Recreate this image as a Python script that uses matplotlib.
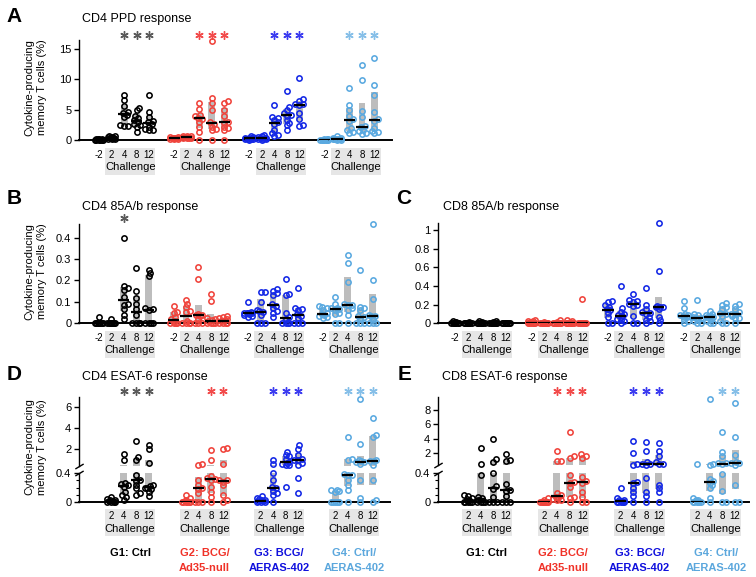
import numpy as np
import matplotlib
matplotlib.use('Agg')
import matplotlib.pyplot as plt
from matplotlib.transforms import blended_transform_factory
from matplotlib.patches import Rectangle

plt.rcParams['font.family'] = ['Liberation Sans', 'DejaVu Sans']

# ---------------- data ----------------
weeks_all = ['-2', '2', '4', '8', '12']
weeks_esat = ['2', '4', '8', '12']
group_labels = ['G1: Ctrl', 'G2: BCG/\nAd35-null', 'G3: BCG/\nAERAS-402', 'G4: Ctrl/\nAERAS-402']
group_colors = ['#000000', '#f0443c', '#1428e6', '#5aa9e0']
label_colors = ['#000000', '#f03228', '#1010dd', '#5ba7dd']
star_colors = ['#5a5a5a', '#f24a4a', '#3b3bf0', '#86bfe8']

# Panel A: CD4 PPD (weeks -2,2,4,8,12)
A_G1 = [[0, 0, 0.1, 0, 0.2, 0, 0.1, 0, 0.05, 0.1],
        [0.2, 0.4, 0.5, 0.6, 0.3, 0.1, 0.5, 0.4, 0.2, 0.6],
        [7.4, 6.6, 5.6, 4.7, 4.5, 4.2, 3.8, 2.4, 2.3, 2.3],
        [5.3, 4.9, 4.0, 3.6, 3.3, 3.0, 2.7, 2.4, 2.2, 1.4],
        [7.4, 4.6, 3.8, 3.2, 2.9, 2.7, 2.2, 1.8, 1.7, 1.6]]
A_G2 = [[0.3, 0.4, 0.2, 0.5, 0.3, 0.4, 0.1, 0.3, 0.5, 0.2],
        [0.5, 0.6, 0.4, 0.3, 0.7, 0.5, 0.4, 0.6, 0.5, 0.3],
        [6.1, 5.1, 4.2, 3.9, 3.7, 3.5, 3.0, 2.2, 1.4, 0.0],
        [16.3, 7.0, 6.1, 5.0, 2.9, 2.7, 2.2, 1.8, 1.6, 0.0],
        [6.4, 6.1, 5.0, 4.0, 3.0, 2.8, 2.2, 1.9, 1.6, 0.0]]
A_G3 = [[0.5, 0.3, 0.2, 0.1, 0.4, 0.2, 0.3, 0.1, 0.0, 0.6],
        [0.8, 0.5, 0.3, 0.2, 0.1, 0.4, 0.2, 0.0, 0.3, 0.6],
        [5.8, 3.8, 3.6, 3.3, 2.9, 2.6, 1.6, 1.2, 0.9, 0.7],
        [8.1, 5.4, 5.0, 4.4, 4.1, 4.0, 3.3, 2.8, 2.4, 1.6],
        [10.3, 6.7, 6.4, 6.0, 5.9, 5.8, 4.5, 3.4, 2.4, 2.3]]
A_G4 = [[0.05, 0.0, 0.1, 0.0, 0.05, 0.1, 0.0, 0.05, 0.0, 0.1],
        [0.1, 0.3, 0.6, 0.2, 0.0, 0.1, 0.4, 0.2, 0.0, 0.1],
        [8.5, 5.8, 5.0, 4.0, 3.4, 3.2, 1.9, 1.6, 1.4, 1.2],
        [12.4, 9.9, 4.8, 3.8, 2.3, 2.1, 1.7, 1.5, 1.2, 1.0],
        [13.5, 9.0, 7.5, 4.7, 3.4, 3.2, 2.0, 1.5, 1.3, 1.1]]
A_stars = [['4', '8', '12'], ['4', '8', '12'], ['4', '8', '12'], ['4', '8', '12']]

# Panel B: CD4 85A/b
B_G1 = [[0.028, 0, 0, 0, 0, 0, 0, 0, 0, 0],
        [0.022, 0, 0, 0, 0, 0, 0, 0, 0, 0],
        [0.40, 0.175, 0.165, 0.155, 0.125, 0.09, 0.085, 0.065, 0.04, 0.02],
        [0.26, 0.15, 0.12, 0.09, 0.065, 0.04, 0, 0, 0, 0],
        [0.25, 0.235, 0.22, 0.07, 0.065, 0.06, 0, 0, 0, 0]]
B_G2 = [[0.083, 0.055, 0.05, 0.03, 0.02, 0.012, 0, 0, 0, 0],
        [0.11, 0.09, 0.075, 0.058, 0.055, 0.012, 0, 0, 0, 0],
        [0.265, 0.207, 0.045, 0.04, 0.038, 0.035, 0.02, 0, 0, 0],
        [0.135, 0.105, 0.025, 0.02, 0.015, 0.01, 0, 0, 0, 0],
        [0.035, 0.03, 0.025, 0.02, 0.015, 0.01, 0, 0, 0, 0]]
B_G3 = [[0.10, 0.055, 0.05, 0.048, 0.047, 0.046, 0.045, 0.04, 0.035, 0.03],
        [0.148, 0.145, 0.10, 0.063, 0.058, 0.052, 0.04, 0, 0, 0],
        [0.158, 0.15, 0.14, 0.13, 0.09, 0.083, 0.07, 0.058, 0.05, 0.03],
        [0.207, 0.135, 0.13, 0.047, 0.03, 0.022, 0, 0, 0, 0],
        [0.163, 0.073, 0.068, 0.06, 0.042, 0.036, 0.025, 0, 0, 0]]
B_G4 = [[0.08, 0.075, 0.07, 0.06, 0.048, 0.042, 0.04, 0.035, 0.03, 0.025],
        [0.125, 0.09, 0.073, 0.07, 0.066, 0.063, 0.05, 0.045, 0, 0],
        [0.32, 0.28, 0.195, 0.09, 0.087, 0.085, 0.07, 0.06, 0.04, 0],
        [0.25, 0.078, 0.07, 0.06, 0.032, 0.028, 0.02, 0, 0, 0],
        [0.465, 0.2, 0.115, 0.04, 0.035, 0.032, 0.02, 0, 0, 0]]
B_stars = [['4'], [], [], []]

# Panel C: CD8 85A/b
C_G1 = [[0.02, 0.01, 0.01, 0, 0, 0, 0, 0, 0, 0],
        [0.01, 0.005, 0, 0, 0, 0, 0, 0, 0, 0],
        [0.02, 0.01, 0.005, 0, 0, 0, 0, 0, 0, 0],
        [0.025, 0.01, 0, 0, 0, 0, 0, 0, 0, 0],
        [0.005, 0, 0, 0, 0, 0, 0, 0, 0, 0]]
C_G2 = [[0.04, 0.03, 0.02, 0.01, 0, 0, 0, 0, 0, 0],
        [0.01, 0, 0, 0, 0, 0, 0, 0, 0, 0],
        [0.035, 0.01, 0, 0, 0, 0, 0, 0, 0, 0],
        [0.035, 0.02, 0.01, 0, 0, 0, 0, 0, 0, 0],
        [0.26, 0, 0, 0, 0, 0, 0, 0, 0, 0]]
C_G3 = [[0.235, 0.225, 0.2, 0.18, 0.15, 0.14, 0.11, 0.07, 0, 0],
        [0.40, 0.16, 0.125, 0.1, 0.085, 0.075, 0.05, 0.04, 0.02, 0],
        [0.31, 0.25, 0.24, 0.23, 0.21, 0.2, 0.19, 0.08, 0, 0],
        [0.375, 0.2, 0.15, 0.125, 0.115, 0.105, 0.07, 0.04, 0.02, 0],
        [1.07, 0.56, 0.19, 0.18, 0.178, 0.172, 0.15, 0.07, 0.035, 0]]
C_G4 = [[0.24, 0.16, 0.1, 0.09, 0.085, 0.08, 0.07, 0.04, 0.02, 0],
        [0.245, 0.1, 0.09, 0.07, 0.058, 0.052, 0.04, 0.03, 0, 0],
        [0.13, 0.1, 0.09, 0.08, 0.072, 0.068, 0.05, 0.03, 0, 0],
        [0.215, 0.2, 0.17, 0.15, 0.11, 0.1, 0.08, 0.03, 0, 0],
        [0.21, 0.19, 0.15, 0.12, 0.105, 0.1, 0.08, 0.06, 0.055, 0]]
C_stars = [[], [], [], []]

# Panel D: CD4 ESAT-6 (weeks 2,4,8,12)
D_G1 = [[0.07, 0.04, 0.03, 0.02, 0.01, 0.01, 0, 0, 0, 0],
        [1.5, 0.95, 0.27, 0.25, 0.24, 0.21, 0.14, 0.1, 0.07, 0.03],
        [2.75, 1.25, 0.95, 0.37, 0.31, 0.29, 0.24, 0.19, 0.12, 0.09],
        [2.4, 2.0, 0.65, 0.23, 0.22, 0.2, 0.19, 0.18, 0.14, 0.08]]
D_G2 = [[0.1, 0.05, 0.02, 0.01, 0, 0, 0, 0, 0, 0],
        [0.55, 0.52, 0.3, 0.24, 0.2, 0.18, 0.12, 0, 0, 0],
        [1.9, 0.95, 0.36, 0.33, 0.32, 0.31, 0.21, 0.14, 0.07, 0],
        [2.15, 2.0, 0.55, 0.31, 0.3, 0.28, 0.23, 0.1, 0.03, 0]]
D_G3 = [[0.08, 0.05, 0.04, 0.03, 0.02, 0.01, 0.01, 0, 0, 0],
        [1.0, 0.6, 0.4, 0.3, 0.21, 0.19, 0.15, 0.12, 0.1, 0],
        [1.75, 1.45, 1.3, 1.1, 0.8, 0.7, 0.6, 0.5, 0.45, 0.21],
        [2.35, 2.05, 1.45, 1.1, 1.0, 0.95, 0.7, 0.5, 0.33, 0.12]]
D_G4 = [[0.17, 0.16, 0.15, 0.14, 0, 0, 0, 0, 0, 0],
        [3.2, 1.1, 1.0, 0.39, 0.38, 0.37, 0.3, 0.23, 0.17, 0],
        [6.8, 2.5, 1.0, 0.85, 0.8, 0.78, 0.6, 0.3, 0.05, 0],
        [5.0, 3.3, 3.2, 1.0, 0.88, 0.82, 0.5, 0.31, 0.03, 0]]
D_stars = [['4', '8', '12'], ['8', '12'], ['4', '8', '12'], ['4', '8', '12']]

# Panel E: CD8 ESAT-6
E_G1 = [[0.09, 0.085, 0.05, 0.04, 0.02, 0, 0, 0, 0, 0],
        [2.7, 0.5, 0.37, 0.07, 0.05, 0.02, 0, 0, 0, 0],
        [3.9, 1.2, 0.85, 0.4, 0.22, 0.18, 0.07, 0, 0, 0],
        [1.9, 1.1, 1.0, 0.25, 0.17, 0.15, 0.08, 0, 0, 0]]
E_G2 = [[0.05, 0.02, 0, 0, 0, 0, 0, 0, 0, 0],
        [2.3, 1.0, 0.95, 0.12, 0.09, 0.07, 0.05, 0.04, 0.03, 0.02],
        [4.9, 1.6, 1.3, 0.38, 0.28, 0.26, 0.21, 0.07, 0.05, 0],
        [1.85, 1.6, 1.4, 0.35, 0.29, 0.27, 0.14, 0.07, 0, 0]]
E_G3 = [[0.19, 0.05, 0.03, 0.02, 0.01, 0, 0, 0, 0, 0],
        [3.7, 2.0, 0.6, 0.42, 0.28, 0.26, 0.2, 0.14, 0.08, 0],
        [3.6, 2.35, 0.85, 0.6, 0.5, 0.45, 0.34, 0.13, 0.08, 0],
        [3.45, 2.35, 1.6, 0.85, 0.56, 0.54, 0.24, 0.19, 0.13, 0]]
E_G4 = [[0.5, 0.05, 0.03, 0.02, 0, 0, 0, 0, 0, 0],
        [9.5, 0.55, 0.45, 0.32, 0.29, 0.27, 0.23, 0.19, 0.05, 0],
        [4.95, 2.2, 1.6, 0.7, 0.62, 0.58, 0.39, 0.15, 0, 0],
        [8.9, 4.3, 1.8, 0.75, 0.66, 0.62, 0.45, 0.23, 0, 0]]
E_stars = [[], ['4', '8', '12'], ['4', '8', '12'], ['8', '12']]

# ---------------- figure ----------------
W, H = 756, 577
fig = plt.figure(figsize=(W / 100, H / 100), dpi=100)

BAR_C = '#bdbdbd'
BOX_C = '#e6e6e6'


def add_ax(l, t, r, b):
    return fig.add_axes([l / W, 1 - b / H, (r - l) / W, (b - t) / H])


def make_break(up0, up_k, lo_k=71.0, brk=0.4):
    def fwd(v):
        v = np.asarray(v, float)
        return np.where(v <= brk, v * lo_k, up0 + (v - brk) * up_k)

    def inv(u):
        u = np.asarray(u, float)
        return np.where(u <= brk * lo_k, u / lo_k,
                        np.where(u < up0, brk, brk + (u - up0) / up_k))
    return fwd, inv


def swarm(ypx, D=3.4, step=1.3, maxoff=4.6):
    n = len(ypx)
    offs = np.zeros(n)
    cands = [0.0]
    k = 1
    while k * step <= maxoff:
        cands += [k * step, -k * step]
        k += 1
    placed = []
    for i in np.argsort(ypx):
        best, bestd, bd = None, -1, 0.0
        for c in cands:
            if not placed:
                best = c
                break
            d = min(np.hypot(c - ox, ypx[i] - oy) for ox, oy in placed)
            if d >= D:
                best = c
                break
            if d > bestd:
                bestd, bd = d, c
        if best is None:
            best = bd
        placed.append((best, ypx[i]))
        offs[i] = best
    return offs


def below(ax, x, dy_px, text, h_px, **kw):
    tr = blended_transform_factory(ax.transData, ax.transAxes)
    ax.text(x, -dy_px / h_px, text, transform=tr, ha='center', va='center',
            clip_on=False, **kw)


def draw_panel(ax, groups, weeks, stars, xlim, ylim, yticks, yticklabels,
               title, letter, letter_xy, title_xy, ylabel=False, broken=None):
    h_px = ax.bbox.height
    ax.set_xlim(*xlim)
    if broken is not None:
        fwd, inv = make_break(*broken)
        ax.set_yscale('function', functions=(fwd, inv))
    ax.set_ylim(*ylim)
    ppu = ax.bbox.width / (xlim[1] - xlim[0])
    tr = blended_transform_factory(ax.transData, ax.transAxes)

    for g, gdata in enumerate(groups):
        col = group_colors[g]
        for wk, vals in zip(weeks, gdata):
            x0 = 6 * g + weeks_all.index(wk)
            v = np.array(vals, float)
            med = np.median(v)
            q1, q3 = np.percentile(v, [25, 75], method='weibull')
            if broken is None:
                ax.bar(x0, q3 - q1, bottom=q1, width=0.55, color=BAR_C, lw=0, zorder=1)
            else:
                if q1 < 0.4:
                    top = min(q3, 0.4)
                    ax.bar(x0, top - q1, bottom=q1, width=0.55, color=BAR_C, lw=0, zorder=1)
                if q3 > 0.4:
                    lo = max(q1, 0.4001)
                    ax.bar(x0, q3 - lo, bottom=lo, width=0.55, color=BAR_C, lw=0, zorder=1)
            ypx = ax.transData.transform(np.column_stack([np.full(len(v), x0), v]))[:, 1]
            offs = swarm(ypx)
            ax.plot(x0 + offs / ppu, v, ls='none', marker='o', ms=3.8, mfc='none',
                    mec=col, mew=1.15, clip_on=False, zorder=3)
            ax.plot([x0 - 0.45, x0 + 0.45], [med, med], color='k', lw=1.6,
                    solid_capstyle='butt', zorder=4)
        for wk in stars[g]:
            x0 = 6 * g + weeks_all.index(wk)
            ax.plot([x0], [1 + 5.5 / h_px], transform=tr, marker=(6, 2, 0), ms=6.0,
                    mew=1.0, color=star_colors[g], clip_on=False, ls='none')
        ax.add_patch(Rectangle((6 * g + 0.5, -34.5 / h_px), 4.0, 27.0 / h_px,
                               transform=tr, facecolor=BOX_C, edgecolor='none',
                               clip_on=False, zorder=0))
        for wk in weeks:
            below(ax, 6 * g + weeks_all.index(wk), 14.5, wk, h_px, fontsize=7)
        below(ax, 6 * g + 2.5, 27.0, 'Challenge', h_px, fontsize=8)

    for s in ['top', 'right']:
        ax.spines[s].set_visible(False)
    ax.spines['bottom'].set_linewidth(1.4)
    ax.spines['left'].set_linewidth(1.0)
    ax.set_xticks([])
    ax.set_yticks(yticks)
    ax.set_yticklabels(yticklabels)
    ax.tick_params(axis='y', direction='out', length=3.5, width=1.0, pad=2, labelsize=8)
    if broken is not None:
        ax.spines['left'].set_visible(False)
        ytr = ax.get_yaxis_transform()
        ax.plot([0, 0], [0, 0.4], transform=ytr, color='k', lw=1.0, clip_on=False)
        ax.plot([0, 0], [0.4001, ylim[1]], transform=ytr, color='k', lw=1.0, clip_on=False)
        ax.plot([0, 0], [0.4, 0.4001], transform=ytr, marker=[(-1, -0.6), (1, 0.6)],
                ms=6, mew=1.0, ls='none', color='k', clip_on=False)
        ax.set_yticks([0.1, 0.2, 0.3], minor=True)
        ax.tick_params(axis='y', which='minor', direction='out', length=2, width=0.8)
    fig.text(title_xy[0] / W, 1 - title_xy[1] / H, title, fontsize=9, ha='left', va='center')
    fig.text(letter_xy[0] / W, 1 - letter_xy[1] / H, letter, fontsize=15,
             fontweight='bold', ha='center', va='center')
    if ylabel:
        bb = ax.get_position()
        yc = (bb.y0 + bb.y1) / 2 + 2.5 / H
        fig.text(36 / W, yc, 'Cytokine-producing\nmemory T cells (%)', rotation=90,
                 ha='center', va='center', fontsize=8, multialignment='center',
                 linespacing=1.35)


LX = (-1.6, 23.4)
RX = (-1.35, 23.1)

axA = add_ax(79, 40, 392, 140)
draw_panel(axA, [A_G1, A_G2, A_G3, A_G4], weeks_all, A_stars, LX, (0, 16.5),
           [0, 5, 10, 15], ['0', '5', '10', '15'], 'CD4 PPD response', 'A',
           (14, 17), (82, 19), ylabel=True)

axB = add_ax(79, 224, 390, 323.3)
draw_panel(axB, [B_G1, B_G2, B_G3, B_G4], weeks_all, B_stars, LX, (0, 0.464),
           [0, 0.1, 0.2, 0.3, 0.4], ['0', '0.1', '0.2', '0.3', '0.4'],
           'CD4 85A/b response', 'B', (14, 199), (82, 207), ylabel=True)

axC = add_ax(438, 223, 749, 323.3)
draw_panel(axC, [C_G1, C_G2, C_G3, C_G4], weeks_all, C_stars, RX, (0, 1.075),
           [0, 0.2, 0.4, 0.6, 0.8, 1.0], ['0', '0.2', '0.4', '0.6', '0.8', '1'],
           'CD8 85A/b response', 'C', (404, 198), (443, 207))

axD = add_ax(79, 396.7, 390, 501.7)
draw_panel(axD, [D_G1, D_G2, D_G3, D_G4], weeks_esat, D_stars, LX, (0, 7.0),
           [0, 0.4, 2, 4, 6], ['0', '0.4', '2', '4', '6'],
           'CD4 ESAT-6 response', 'D', (14, 374), (82, 377), ylabel=True,
           broken=(35.9, 10.5))

axE = add_ax(438, 396.7, 749, 501.7)
draw_panel(axE, [E_G1, E_G2, E_G3, E_G4], weeks_esat, E_stars, RX, (0, 9.76),
           [0, 0.4, 2, 4, 6, 8], ['0', '0.4', '2', '4', '6', '8'],
           'CD8 ESAT-6 response', 'E', (405, 375), (442, 377),
           broken=(36.7, 7.3))

for ax in (axD, axE):
    h_px = ax.bbox.height
    for g, lab in enumerate(group_labels):
        for li, line in enumerate(lab.split('\n')):
            below(ax, 6 * g + 2.5, 51 + 15 * li, line, h_px, fontsize=8,
                  fontweight='bold', color=label_colors[g])

fig.savefig('out.png', dpi=100)
